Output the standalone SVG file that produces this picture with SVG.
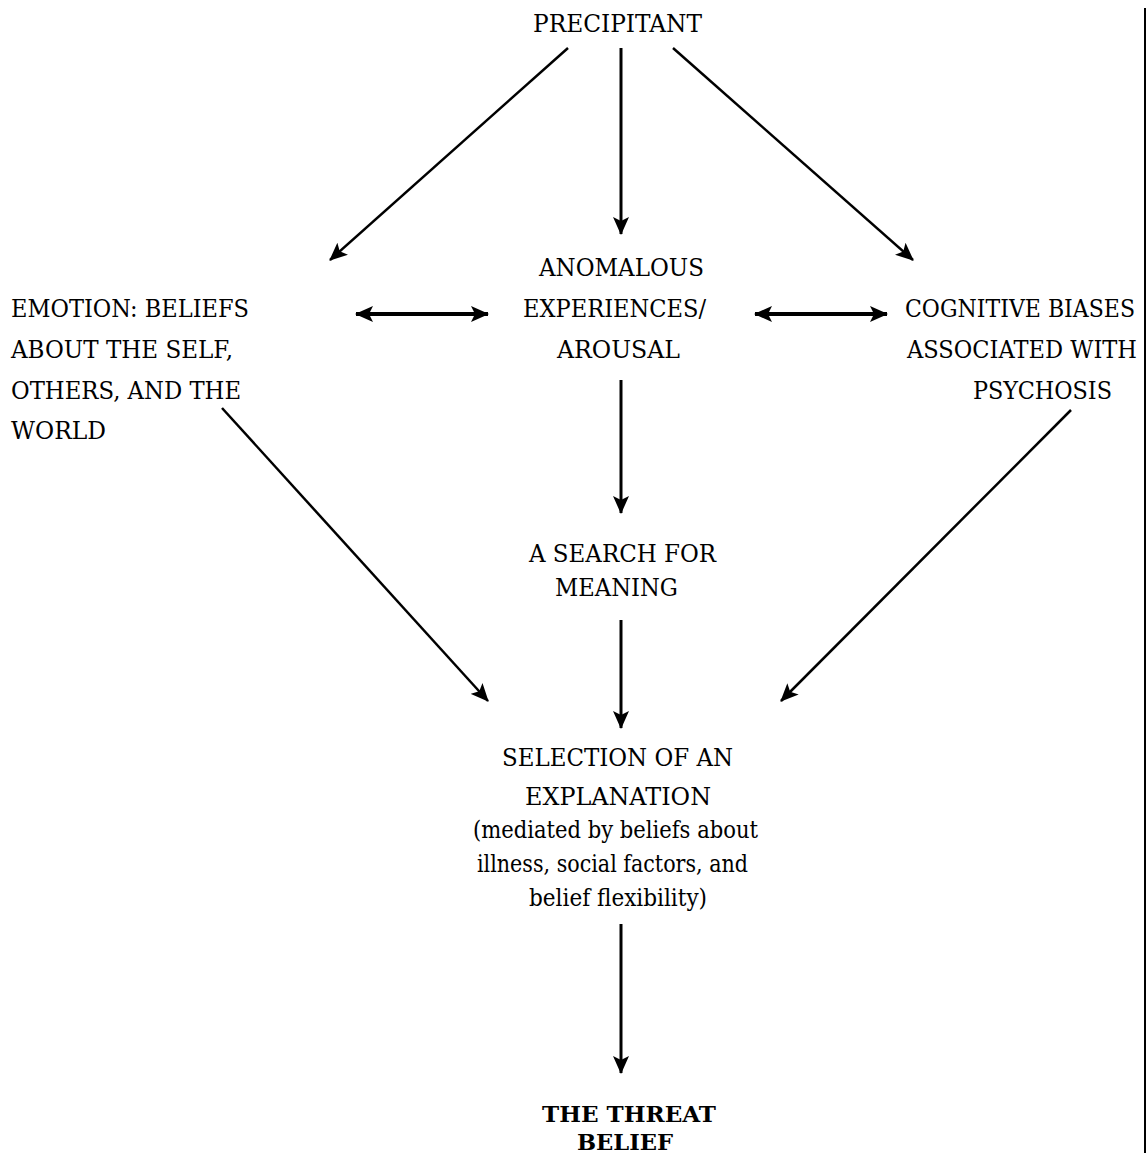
<svg xmlns="http://www.w3.org/2000/svg" width="1148" height="1153" viewBox="0 0 1148 1153">
<defs>
<style>
text{font-size:24.5px;fill:#000}
.b{font-weight:bold;font-size:23px}
.c{fill:none;stroke:#000;stroke-width:3}
.d{stroke-width:2.5}
.h{stroke-width:4}
</style>
<marker id="ah" viewBox="0 0 18 16" refX="17" refY="8" markerWidth="18" markerHeight="16" markerUnits="userSpaceOnUse" orient="auto-start-reverse">
<path d="M0,0 L18,8 L0,16 L4,8 Z" fill="#000"/>
</marker>
</defs>
<rect width="1148" height="1153" fill="#fff"/>
<g font-family="'DejaVu Serif', 'Liberation Serif', serif">
<g id="precipitant"><text x="533" y="32" textLength="169" lengthAdjust="spacingAndGlyphs">PRECIPITANT</text></g>
<g id="emotion">
<text x="11" y="317" textLength="238" lengthAdjust="spacingAndGlyphs">EMOTION: BELIEFS</text>
<text x="11" y="358" textLength="222" lengthAdjust="spacingAndGlyphs">ABOUT THE SELF,</text>
<text x="11" y="399" textLength="230" lengthAdjust="spacingAndGlyphs">OTHERS, AND THE</text>
<text x="11" y="439" textLength="95" lengthAdjust="spacingAndGlyphs">WORLD</text>
</g>
<g id="anomalous">
<text x="539" y="276" textLength="165" lengthAdjust="spacingAndGlyphs">ANOMALOUS</text>
<text x="523" y="317" textLength="183" lengthAdjust="spacingAndGlyphs">EXPERIENCES/</text>
<text x="557" y="358" textLength="123" lengthAdjust="spacingAndGlyphs">AROUSAL</text>
</g>
<g id="cognitive">
<text x="905" y="317" textLength="230" lengthAdjust="spacingAndGlyphs">COGNITIVE BIASES</text>
<text x="907" y="358" textLength="230" lengthAdjust="spacingAndGlyphs">ASSOCIATED WITH</text>
<text x="973" y="399" textLength="139" lengthAdjust="spacingAndGlyphs">PSYCHOSIS</text>
</g>
<g id="search">
<text x="529" y="562" textLength="187" lengthAdjust="spacingAndGlyphs">A SEARCH FOR</text>
<text x="555" y="596" textLength="123" lengthAdjust="spacingAndGlyphs">MEANING</text>
</g>
<g id="selection">
<text x="502" y="766" textLength="231" lengthAdjust="spacingAndGlyphs">SELECTION OF AN</text>
<text x="525" y="805" textLength="186" lengthAdjust="spacingAndGlyphs">EXPLANATION</text>
<text x="473" y="838" textLength="285" lengthAdjust="spacingAndGlyphs">(mediated by beliefs about</text>
<text x="477" y="872" textLength="271" lengthAdjust="spacingAndGlyphs">illness, social factors, and</text>
<text x="529" y="906" textLength="178" lengthAdjust="spacingAndGlyphs">belief flexibility)</text>
</g>
<g id="threat">
<text class="b" x="542" y="1122" textLength="174" lengthAdjust="spacingAndGlyphs">THE THREAT</text>
<text class="b" x="577" y="1150" textLength="96" lengthAdjust="spacingAndGlyphs">BELIEF</text>
</g>
</g>
<line x1="1145" y1="8" x2="1145" y2="1153" stroke="#000" stroke-width="2"/>
<g id="connectors">
<line class="c" x1="621" y1="48" x2="621" y2="234" marker-end="url(#ah)"/>
<line class="c d" x1="568" y1="48" x2="330" y2="260" marker-end="url(#ah)"/>
<line class="c d" x1="673" y1="48" x2="913" y2="260" marker-end="url(#ah)"/>
<line class="c h" x1="356" y1="314" x2="488" y2="314" marker-start="url(#ah)" marker-end="url(#ah)"/>
<line class="c h" x1="755" y1="314" x2="887" y2="314" marker-start="url(#ah)" marker-end="url(#ah)"/>
<line class="c" x1="621" y1="380" x2="621" y2="513" marker-end="url(#ah)"/>
<line class="c" x1="621" y1="620" x2="621" y2="728" marker-end="url(#ah)"/>
<line class="c d" x1="222" y1="408" x2="488" y2="701" marker-end="url(#ah)"/>
<line class="c d" x1="1071" y1="410" x2="781" y2="701" marker-end="url(#ah)"/>
<line class="c" x1="621" y1="924" x2="621" y2="1073" marker-end="url(#ah)"/>
</g>
</svg>
